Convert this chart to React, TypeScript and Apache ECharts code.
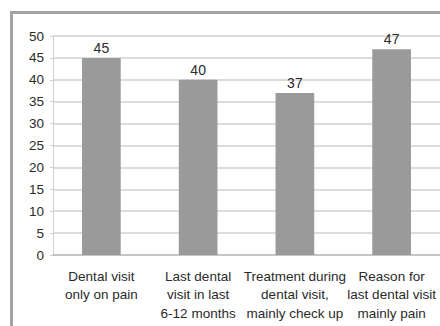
import React, { useEffect, useRef } from "react";
import * as echarts from "echarts";

const categories = [
  "Dental visit\nonly on pain",
  "Last dental\nvisit in last\n6-12 months",
  "Treatment during\ndental visit,\nmainly check up",
  "Reason for\nlast dental visit\nmainly pain",
];
const values = [45, 40, 37, 47];
const yTicks = { min: 0, max: 50, interval: 5 };

const FONT = "'Liberation Sans', Arial, sans-serif";

export default function App() {
  const ref = useRef<HTMLDivElement>(null);

  useEffect(() => {
    if (!ref.current) return;
    const chart = echarts.init(ref.current, null, { renderer: "svg" });
    chart.setOption({
      animation: false,
      backgroundColor: "#ffffff",
      grid: { left: 53, right: -2, top: 36, bottom: 71, containLabel: false },
      graphic: [
        {
          type: "rect",
          shape: { x: 10, y: 11, width: 440, height: 3 },
          style: { fill: "#a3a3a3" },
          silent: true,
        },
        {
          type: "rect",
          shape: { x: 10, y: 11, width: 3, height: 330 },
          style: { fill: "#a3a3a3" },
          silent: true,
        },
      ],
      xAxis: {
        type: "category",
        data: categories,
        axisLine: { show: true, lineStyle: { color: "#bdbdbd", width: 1.5 } },
        axisTick: { show: false },
        axisLabel: {
          interval: 0,
          color: "#2a2a2a",
          fontFamily: FONT,
          fontSize: 13.5,
          lineHeight: 18.5,
          margin: 12,
        },
      },
      yAxis: {
        type: "value",
        min: yTicks.min,
        max: yTicks.max,
        interval: yTicks.interval,
        axisLine: { show: true, lineStyle: { color: "#cfcfcf", width: 1 } },
        axisTick: { show: true, length: 3, lineStyle: { color: "#cfcfcf" } },
        splitLine: { show: true, lineStyle: { color: "#d0d0d0", width: 1.5 } },
        axisLabel: {
          color: "#2a2a2a",
          fontFamily: FONT,
          fontSize: 13.5,
          margin: 9,
        },
      },
      series: [
        {
          type: "bar",
          data: values,
          barWidth: "40%",
          itemStyle: { color: "#9a9a9a" },
          label: {
            show: true,
            position: "top",
            distance: 3,
            color: "#2a2a2a",
            fontFamily: FONT,
            fontSize: 14,
          },
        },
      ],
    });
    return () => chart.dispose();
  }, []);

  return (
    <div
      ref={ref}
      style={{ position: "fixed", left: 0, top: 0, width: 440, height: 326, background: "#fff" }}
    />
  );
}
